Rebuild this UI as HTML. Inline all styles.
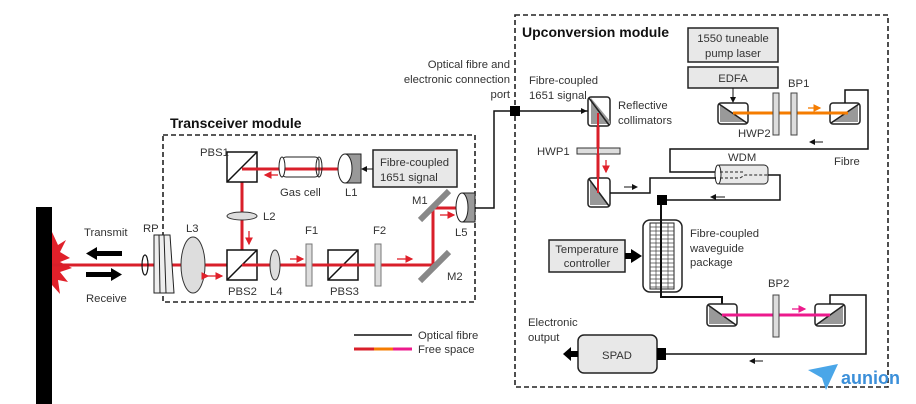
<!DOCTYPE html>
<html><head><meta charset="utf-8"><style>
html,body{margin:0;padding:0;background:#fff;}
svg{display:block;}
text{font-family:"Liberation Sans",sans-serif;font-size:11.3px;fill:#333;}
.b{font-weight:bold;font-size:14px;fill:#111;}
</style></head><body>
<svg width="916" height="404" viewBox="0 0 916 404" xmlns="http://www.w3.org/2000/svg">
<defs>
<marker id="ah" markerWidth="6" markerHeight="6" refX="5" refY="3" orient="auto"><path d="M0,0 L6,3 L0,6 z" fill="#111"/></marker>
<marker id="ar" markerWidth="6" markerHeight="6" refX="5" refY="3" orient="auto"><path d="M0,0 L6,3 L0,6 z" fill="#e0202a"/></marker>
<marker id="ao" markerWidth="6" markerHeight="6" refX="5" refY="3" orient="auto"><path d="M0,0 L6,3 L0,6 z" fill="#f57c00"/></marker>
<marker id="ap" markerWidth="6" markerHeight="6" refX="5" refY="3" orient="auto"><path d="M0,0 L6,3 L0,6 z" fill="#ec1a8c"/></marker>
</defs>

<rect x="163" y="135" width="312" height="167" fill="none" stroke="#222" stroke-width="1.6" stroke-dasharray="5,3"/>
<text x="170" y="128" class="b">Transceiver module</text>
<rect x="515" y="15" width="373" height="372" fill="none" stroke="#222" stroke-width="1.6" stroke-dasharray="5,3"/>
<text x="522" y="37" class="b">Upconversion module</text>

<rect x="36" y="207" width="16" height="197" fill="#000"/>
<path d="M52,232 L58,245 L66,240 L60,252 L70,258 L60,262 L72,268 L60,272 L68,282 L58,280 L60,294 L52,285 z" fill="#e0202a"/>

<g stroke="#d91f2a" stroke-width="3" fill="none">
<path d="M52,265 L433,265 L433,208 L465,208"/>
<path d="M242,265 L242,169 L350,169"/>
</g>
<rect x="94" y="251" width="28" height="5" fill="#000"/><path d="M86,253.5 L97,247 L97,260 z" fill="#000"/>
<rect x="86" y="272" width="28" height="5" fill="#000"/><path d="M122,274.5 L111,268 L111,281 z" fill="#000"/>
<text x="84" y="236">Transmit</text>
<text x="86" y="302">Receive</text>
<ellipse cx="145" cy="265" rx="3" ry="10" fill="none" stroke="#111" stroke-width="1.2"/>
<path d="M154,235 L170,235 L174,293 L154,293 z" fill="#eee" stroke="#222" stroke-width="1"/>
<path d="M159,235 L160,293 M164,235 L166,293" stroke="#222" stroke-width="1"/>
<text x="143" y="232">RP</text>
<ellipse cx="193" cy="265" rx="12" ry="28" fill="#ddd" stroke="#333"/>
<text x="186" y="232">L3</text>
<path d="M208,276 L222,276" stroke="#e0202a" stroke-width="1.3" marker-end="url(#ar)" marker-start="url(#ar)"/>
<g fill="#fff" stroke="#111" stroke-width="1.5">
<rect x="227" y="152" width="30" height="30"/><rect x="227" y="250" width="30" height="30"/><rect x="328" y="250" width="30" height="30"/>
</g>
<g stroke="#111" stroke-width="1.5"><path d="M227,182 L257,152 M227,280 L257,250 M328,280 L358,250"/></g>
<path d="M242,265 L433,265" stroke="#d91f2a" stroke-width="3"/>
<path d="M242,169 L350,169" stroke="#d91f2a" stroke-width="3"/>
<text x="200" y="156">PBS1</text><text x="228" y="295">PBS2</text><text x="330" y="295">PBS3</text>
<rect x="282" y="157" width="37" height="20" rx="4" fill="none" stroke="#222"/>
<ellipse cx="282" cy="167" rx="3" ry="10" fill="#fff" stroke="#222"/><ellipse cx="319" cy="167" rx="3" ry="10" fill="none" stroke="#222"/>
<text x="280" y="196">Gas cell</text>
<path d="M278,175 L265,175" stroke="#e0202a" stroke-width="1.3" marker-end="url(#ar)"/>
<rect x="345" y="154" width="16" height="29" fill="#999" stroke="#222"/>
<ellipse cx="345" cy="168.5" rx="7" ry="14.5" fill="#fff" stroke="#222"/>
<text x="345" y="196">L1</text>
<rect x="373" y="150" width="84" height="37" fill="#e8e8e8" stroke="#222" stroke-width="1.5"/>
<text x="380" y="166">Fibre-coupled</text><text x="380" y="181">1651 signal</text>
<path d="M373,169 L362,169" stroke="#111" marker-end="url(#ah)"/>
<ellipse cx="242" cy="216" rx="15" ry="4" fill="#ddd" stroke="#333"/>
<text x="263" y="220">L2</text>
<path d="M249,231 L249,244" stroke="#e0202a" stroke-width="1.3" marker-end="url(#ar)"/>
<ellipse cx="275" cy="265" rx="5" ry="15" fill="#ddd" stroke="#333"/>
<text x="270" y="295">L4</text>
<rect x="306" y="244" width="6" height="42" fill="#ddd" stroke="#777"/>
<rect x="375" y="244" width="6" height="42" fill="#ddd" stroke="#777"/>
<text x="305" y="234">F1</text><text x="373" y="234">F2</text>
<path d="M290,259 L303,259" stroke="#e0202a" stroke-width="1.3" marker-end="url(#ar)"/>
<path d="M397,259 L412,259" stroke="#e0202a" stroke-width="1.3" marker-end="url(#ar)"/>
<path d="M440,215 L454,215" stroke="#e0202a" stroke-width="1.3" marker-end="url(#ar)"/>
<path d="M420,220 L449,191 M420,281 L449,252" stroke="#888" stroke-width="6"/>
<text x="412" y="204">M1</text><text x="447" y="280">M2</text>
<rect x="462" y="193" width="13" height="29" fill="#999" stroke="#222"/>
<ellipse cx="462" cy="207.5" rx="6" ry="14.5" fill="#fff" stroke="#222"/>
<text x="455" y="236">L5</text>
<path d="M475,208 L494,208 L494,111 L588,111" stroke="#111" stroke-width="1.5" fill="none"/>
<path d="M575,111 L586,111" stroke="#111" marker-end="url(#ah)"/>
<rect x="510" y="106" width="10" height="10" fill="#000"/>
<text x="510" y="68" text-anchor="end">Optical fibre and</text>
<text x="510" y="83" text-anchor="end">electronic connection</text>
<text x="510" y="98" text-anchor="end">port</text>
<text x="529" y="84">Fibre-coupled</text><text x="529" y="99">1651 signal</text>

<path d="M598,113 L598,193" stroke="#d91f2a" stroke-width="3"/>
<rect x="577" y="148" width="43" height="6" fill="#ddd" stroke="#333"/>
<text x="537" y="155">HWP1</text>
<path d="M606,160 L606,172" stroke="#e0202a" stroke-width="1.3" marker-end="url(#ar)"/>
<g stroke="#222" stroke-width="1.5">
<rect x="588" y="97" width="22" height="29" rx="3" fill="#fff"/><path d="M591,98 L610,121 L610,124 L591,124 z" fill="#999" stroke="none"/><path d="M589,98 L609,125"/>
<rect x="588" y="178" width="22" height="29" rx="3" fill="#fff"/><path d="M590,180 L609,205 L590,205 z" fill="#999" stroke="none"/><path d="M589,179 L609,206"/>
</g>
<path d="M598,113 L598,193" stroke="#d91f2a" stroke-width="2"/>
<text x="618" y="109">Reflective</text><text x="618" y="124">collimators</text>
<rect x="688" y="28" width="90" height="34" fill="#e8e8e8" stroke="#222" stroke-width="1.5"/>
<text x="733" y="42" text-anchor="middle">1550 tuneable</text><text x="733" y="57" text-anchor="middle">pump laser</text>
<rect x="688" y="67" width="90" height="21" fill="#e8e8e8" stroke="#222" stroke-width="1.5"/>
<text x="733" y="82" text-anchor="middle">EDFA</text>
<path d="M733,88 L733,102" stroke="#111" marker-end="url(#ah)"/>
<g stroke="#222" stroke-width="1.5">
<rect x="718" y="103" width="30" height="21" rx="3" fill="#fff"/><path d="M720,105 L746,122 L720,122 z" fill="#999" stroke="none"/><path d="M719,104 L747,123"/>
<rect x="830" y="103" width="30" height="21" rx="3" fill="#fff"/><path d="M858,105 L832,122 L858,122 z" fill="#999" stroke="none"/><path d="M859,104 L831,123"/>
</g>
<path d="M733,113 L848,113" stroke="#f57c00" stroke-width="3"/>
<rect x="773" y="93" width="6" height="42" fill="#ddd" stroke="#444"/>
<rect x="791" y="93" width="6" height="42" fill="#ddd" stroke="#444"/>
<text x="738" y="137">HWP2</text><text x="788" y="87">BP1</text>
<path d="M808,108 L820,108" stroke="#f57c00" stroke-width="1.3" marker-end="url(#ao)"/>
<path d="M845,103 L845,90 L868,90 L868,149 L670,149 L670,172 L716,172" stroke="#111" stroke-width="1.5" fill="none"/>
<path d="M823,142 L810,142" stroke="#111" marker-end="url(#ah)"/>
<text x="834" y="165">Fibre</text>
<rect x="716" y="165" width="52" height="19" rx="4" fill="#e8e8e8" stroke="#222"/>
<ellipse cx="718" cy="174.5" rx="3" ry="9.5" fill="#fff" stroke="#222"/>
<path d="M720,172 L745,172 M720,178 L740,178 L745,175 L768,175" stroke="#222" stroke-dasharray="3,2" fill="none"/>
<text x="728" y="161">WDM</text>
<path d="M768,175 L780,175 L780,200 L667,200" stroke="#111" stroke-width="1.5" fill="none"/>
<path d="M725,197 L711,197" stroke="#111" marker-end="url(#ah)"/>
<path d="M610,193 L650,193 L650,178 L716,178" stroke="#111" stroke-width="1.5" fill="none"/>
<path d="M624,187 L637,187" stroke="#111" marker-end="url(#ah)"/>
<rect x="657" y="195" width="10" height="10" fill="#000"/>
<rect x="643" y="220" width="39" height="72" rx="7" fill="#fff" stroke="#222" stroke-width="1.5"/>
<rect x="650" y="223" width="24" height="66" fill="#fff" stroke="#222"/>
<g stroke="#444" stroke-width="0.7">
<path d="M650,227h24M650,231h24M650,235h24M650,239h24M650,243h24M650,247h24M650,251h24M650,255h24M650,259h24M650,263h24M650,267h24M650,271h24M650,275h24M650,279h24M650,283h24M650,287h24"/>
<path d="M656,223v66M668,223v66"/>
</g>
<path d="M661,205 L661,297 L722,297 L722,305" stroke="#111" stroke-width="2" fill="none"/>
<text x="690" y="237">Fibre-coupled</text><text x="690" y="252">waveguide</text><text x="690" y="266">package</text>
<rect x="549" y="240" width="76" height="32" fill="#e8e8e8" stroke="#222" stroke-width="1.5"/>
<text x="587" y="253" text-anchor="middle">Temperature</text><text x="587" y="267" text-anchor="middle">controller</text>
<rect x="625" y="253" width="8" height="6" fill="#000"/><path d="M631,249 L642,256 L631,263 z" fill="#000"/>
<g stroke="#222" stroke-width="1.5">
<rect x="707" y="304" width="30" height="22" rx="3" fill="#fff"/><path d="M709,306 L735,324 L709,324 z" fill="#999" stroke="none"/><path d="M708,305 L736,325"/>
<rect x="815" y="304" width="30" height="22" rx="3" fill="#fff"/><path d="M843,306 L817,324 L843,324 z" fill="#999" stroke="none"/><path d="M844,305 L816,325"/>
</g>
<path d="M722,315 L830,315" stroke="#ec1a8c" stroke-width="3"/>
<rect x="773" y="295" width="6" height="42" fill="#ddd" stroke="#444"/>
<text x="768" y="287">BP2</text>
<path d="M792,309 L805,309" stroke="#ec1a8c" stroke-width="1.3" marker-end="url(#ap)"/>
<path d="M830,304 L830,295 L866,295 L866,354 L666,354" stroke="#111" stroke-width="1.5" fill="none"/>
<path d="M763,361 L750,361" stroke="#111" marker-end="url(#ah)"/>
<rect x="578" y="335" width="79" height="38" rx="6" fill="#e8e8e8" stroke="#222" stroke-width="1.5"/>
<text x="617" y="359" text-anchor="middle">SPAD</text>
<rect x="657" y="348" width="9" height="12" fill="#000"/>
<rect x="570" y="351" width="8" height="6" fill="#000"/><path d="M571,347 L563,354 L571,361 z" fill="#000"/>
<text x="528" y="326">Electronic</text><text x="528" y="341">output</text>
<path d="M354,335 L412,335" stroke="#111" stroke-width="1.5"/>
<path d="M354,349 L374,349" stroke="#d91f2a" stroke-width="3"/>
<path d="M374,349 L393,349" stroke="#f57c00" stroke-width="3"/>
<path d="M393,349 L412,349" stroke="#ec1a8c" stroke-width="3"/>
<text x="418" y="339">Optical fibre</text><text x="418" y="353">Free space</text>
<path d="M808,370 L838,364 L826,390 L822,378 z" fill="#4aa6e8"/>
<text x="841" y="384" style="font-size:18px;font-weight:bold;fill:#3b8fd9">aunion</text>
</svg>
</body></html>
